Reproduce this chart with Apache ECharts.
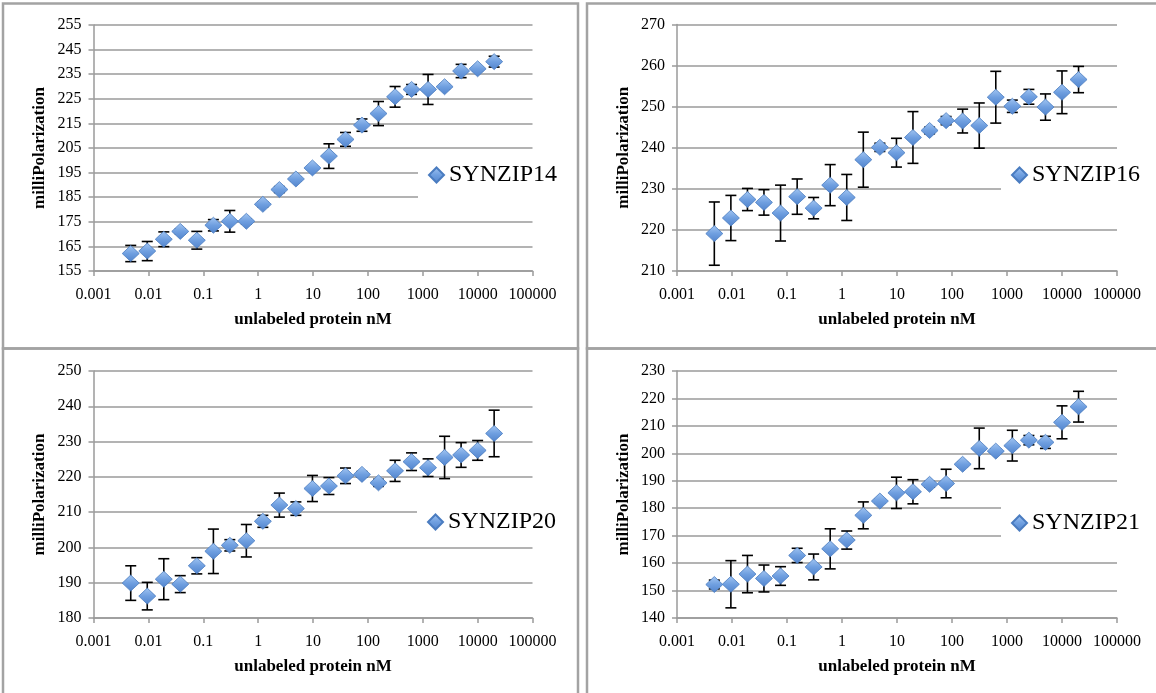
<!DOCTYPE html>
<html>
<head>
<meta charset="utf-8">
<script src="https://cdn.jsdelivr.net/npm/echarts@6/dist/echarts.min.js"></script>
<style>
html,body{margin:0;padding:0;background:#fff;}
#chart{width:1156px;height:693px;}
</style>
</head>
<body>
<div id="chart"></div>
<script>
// ---- data ----
const concentrations = [0.00477, 0.00954, 0.0191, 0.0381, 0.0763, 0.153, 0.305, 0.610, 1.22, 2.44, 4.88, 9.77, 19.5, 39.1, 78.1, 156, 313, 625, 1250, 2500, 5000, 10000, 20000];
const xTickLabels = ['0.001', '0.01', '0.1', '1', '10', '100', '1000', '10000', '100000'];
const seriesNames = ['SYNZIP14', 'SYNZIP16', 'SYNZIP20', 'SYNZIP21'];

const synzip14Values = [162.1, 163.1, 167.9, 171.1, 167.5, 173.6, 175.2, 175.2, 182.1, 188.1, 192.4, 196.9, 201.7, 208.5, 214.3, 219.0, 225.8, 228.8, 228.8, 229.9, 236.3, 237.2, 240.1];
const synzip14Errors = [3.3, 3.9, 3.0, 1.0, 3.6, 2.3, 4.4, 1.0, 1.0, 1.2, 0.8, 0.8, 5.0, 2.8, 2.5, 4.9, 4.2, 2.0, 6.1, 1.0, 2.7, 0.8, 2.2];

const synzip16Values = [219.1, 222.9, 227.4, 226.7, 224.1, 228.1, 225.3, 230.9, 227.9, 237.1, 240.1, 238.8, 242.5, 244.2, 246.6, 246.5, 245.4, 252.3, 250.1, 252.4, 249.9, 253.5, 256.6];
const synzip16Errors = [7.7, 5.5, 2.7, 3.1, 6.8, 4.3, 2.6, 5.0, 5.6, 6.7, 1.0, 3.5, 6.3, 0.8, 1.0, 2.9, 5.5, 6.3, 1.5, 1.8, 3.2, 5.2, 3.2];

const synzip20Values = [189.9, 186.2, 191.0, 189.6, 194.8, 198.9, 200.6, 201.9, 207.4, 212.0, 211.0, 216.7, 217.4, 220.3, 220.7, 218.3, 221.7, 224.3, 222.6, 225.5, 226.2, 227.5, 232.3];
const synzip20Errors = [4.9, 3.9, 5.8, 2.4, 2.3, 6.3, 1.6, 4.6, 1.7, 3.4, 1.9, 3.7, 2.4, 2.2, 0.8, 1.0, 3.0, 2.5, 2.5, 6.0, 3.5, 2.8, 6.6];

const synzip21Values = [152.2, 152.3, 156.0, 154.4, 155.3, 162.8, 158.6, 165.2, 168.4, 177.4, 182.6, 185.6, 186.0, 188.7, 189.0, 196.0, 201.8, 200.8, 202.8, 204.8, 204.0, 211.3, 217.0];
const synzip21Errors = [1.6, 8.6, 6.8, 4.9, 3.4, 2.6, 4.7, 7.3, 3.3, 4.9, 0.8, 5.7, 4.4, 1.0, 5.2, 0.8, 7.4, 0.8, 5.6, 1.7, 2.2, 6.0, 5.6];

const yAxisMin = [155, 210, 180, 140];
const yAxisMax = [255, 270, 250, 230];
const yAxisInterval = [10, 10, 10, 10];
const xAxisTitle = 'unlabeled protein nM';
const yAxisTitle = 'milliPolarization';

// ---- layout / style ----
const allValues = [synzip14Values, synzip16Values, synzip20Values, synzip21Values];
const allErrors = [synzip14Errors, synzip16Errors, synzip20Errors, synzip21Errors];

const grids = [
  {left: 93.5, top: 25, width: 439, height: 246},
  {left: 677, top: 24.5, width: 440, height: 246.5},
  {left: 93.5, top: 371, width: 439, height: 247},
  {left: 677, top: 371, width: 440, height: 247}
];
const legendPos = [
  {left: 418, top: 152},
  {left: 1001, top: 152},
  {left: 417, top: 499},
  {left: 1001, top: 500}
];
const panelBoxes = [
  {x: 3, y: 3.5, width: 575, height: 345},
  {x: 587, y: 3.5, width: 620, height: 345},
  {x: 3, y: 348.5, width: 575, height: 400},
  {x: 587, y: 348.5, width: 620, height: 400}
];

const serif = "'Liberation Serif', 'Times New Roman', serif";
const gridColor = '#9a9a9a';

const markerFill = {
  type: 'linear', x: 0, y: 0, x2: 0, y2: 1,
  colorStops: [{offset: 0, color: '#a3c6f2'}, {offset: 0.5, color: '#6f9fe0'}, {offset: 1, color: '#5284cc'}]
};

function errorRender(params, api) {
  const x = api.value(0);
  const top = api.coord([x, api.value(2)]);
  const bot = api.coord([x, api.value(1)]);
  const hw = 5.5;
  const st = {stroke: '#000', lineWidth: 1.6};
  return {
    type: 'group',
    children: [
      {type: 'line', shape: {x1: top[0], y1: top[1], x2: bot[0], y2: bot[1]}, style: st},
      {type: 'line', shape: {x1: top[0] - hw, y1: top[1], x2: top[0] + hw, y2: top[1]}, style: st},
      {type: 'line', shape: {x1: bot[0] - hw, y1: bot[1], x2: bot[0] + hw, y2: bot[1]}, style: st}
    ]
  };
}

const option = {
  backgroundColor: '#fff',
  animation: false,
  grid: grids.map(g => Object.assign({containLabel: false}, g)),
  xAxis: grids.map((g, i) => ({
    type: 'log', logBase: 10, gridIndex: i,
    min: 0.001, max: 100000, interval: 1, splitNumber: 8,
    name: xAxisTitle, nameLocation: 'middle', nameGap: 40,
    nameTextStyle: {fontFamily: serif, fontWeight: 'bold', fontSize: 17, color: '#000'},
    axisLine: {show: true, lineStyle: {color: gridColor, width: 1.5}},
    axisTick: {show: true, length: 5, inside: false, lineStyle: {color: gridColor, width: 1.5}},
    minorTick: {show: false},
    splitLine: {show: false},
    axisLabel: {
      fontFamily: serif, fontSize: 16, color: '#000', margin: 16,
      formatter: v => xTickLabels[Math.round(Math.log10(v)) + 3]
    }
  })),
  yAxis: grids.map((g, i) => ({
    type: 'value', gridIndex: i,
    min: yAxisMin[i], max: yAxisMax[i], interval: yAxisInterval[i],
    name: yAxisTitle, nameLocation: 'middle', nameGap: 45, nameRotate: 90,
    nameTextStyle: {fontFamily: serif, fontWeight: 'bold', fontSize: 17, color: '#000'},
    axisLine: {show: true, lineStyle: {color: gridColor, width: 1.5}},
    axisTick: {show: true, length: 5, inside: false, lineStyle: {color: gridColor, width: 1.5}},
    splitLine: {show: true, lineStyle: {color: gridColor, width: 1.5}},
    axisLabel: {fontFamily: serif, fontSize: 16, color: '#000', margin: 12}
  })),
  legend: seriesNames.map((n, i) => ({
    data: [n],
    left: legendPos[i].left, top: legendPos[i].top,
    orient: 'vertical',
    backgroundColor: '#fff',
    padding: [10, 0, 10, 10],
    itemWidth: 15, itemHeight: 15, itemGap: 0,
    icon: 'diamond',
    selectedMode: false,
    itemStyle: {opacity: 1},
    textStyle: {fontFamily: serif, fontSize: 24, color: '#000', lineHeight: 26, padding: [0, 0, 0, 0]}
  })),
  graphic: panelBoxes.map(b => ({
    type: 'rect', shape: b, silent: true, z: -1,
    style: {fill: null, stroke: '#a3a3a3', lineWidth: 2.5}
  })),
  series: []
};

seriesNames.forEach((n, i) => {
  const vals = allValues[i], errs = allErrors[i];
  option.series.push({
    type: 'custom', name: n + ' error', xAxisIndex: i, yAxisIndex: i,
    renderItem: errorRender, z: 2,
    encode: {x: 0, y: [1, 2]},
    data: concentrations.map((c, k) => [c, vals[k] - errs[k], vals[k] + errs[k]])
  });
  option.series.push({
    type: 'scatter', name: n, xAxisIndex: i, yAxisIndex: i, z: 3,
    symbol: 'diamond', symbolSize: [17, 16],
    itemStyle: {color: markerFill, borderColor: '#4a7cc0', borderWidth: 0.8, opacity: 1},
    data: concentrations.map((c, k) => [c, vals[k]])
  });
});

const chart = echarts.init(document.getElementById('chart'), null, {renderer: 'canvas'});
chart.setOption(option);
</script>
</body>
</html>
